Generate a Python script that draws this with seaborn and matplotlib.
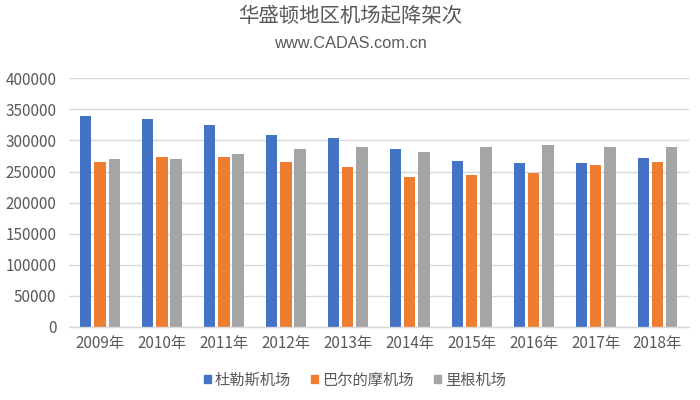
import matplotlib
matplotlib.use("Agg")
import matplotlib.pyplot as plt
import seaborn as sns
import pandas as pd
from matplotlib.patches import Patch

years = ["2009年", "2010年", "2011年", "2012年", "2013年", "2014年", "2015年", "2016年", "2017年", "2018年"]
series_names = ["杜勒斯机场", "巴尔的摩机场", "里根机场"]
dulles = [339000, 334000, 325000, 309000, 304000, 286000, 267000, 263000, 263000, 272000]
baltimore = [266000, 274000, 274000, 266000, 258000, 242000, 244000, 247000, 260000, 266000]
reagan = [270000, 270000, 279000, 286000, 290000, 281000, 290000, 293000, 290000, 290000]
colors = ["#4472C4", "#ED7D31", "#A5A5A5"]
y_ticks = [0, 50000, 100000, 150000, 200000, 250000, 300000, 350000, 400000]

rows = []
for name, vals in zip(series_names, [dulles, baltimore, reagan]):
    for y, v in zip(years, vals):
        rows.append({"year": y, "airport": name, "flights": v})
df = pd.DataFrame(rows)

sns.set_theme(style="white")
plt.rcParams["font.family"] = ["Noto Sans CJK SC", "DejaVu Sans"]
text_color = "#595959"

fig = plt.figure(figsize=(7, 4), dpi=100)
ax = fig.add_axes([0.0986, 0.183, 0.885, 0.621])

sns.barplot(data=df, x="year", y="flights", hue="airport", order=years,
            hue_order=series_names, palette=colors, width=0.69, gap=0.2,
            saturation=1, linewidth=0, ax=ax, legend=False, errorbar=None)

ax.set_ylim(0, 400000)
ax.set_yticks(y_ticks)
ax.set_yticklabels([str(t) for t in y_ticks])
ax.set_xlim(-0.5, len(years) - 0.5)
ax.set_xlabel("")
ax.set_ylabel("")
ax.yaxis.grid(True, color="#D9D9D9", linewidth=1)
ax.set_axisbelow(True)
for s in ["left", "right", "top"]:
    ax.spines[s].set_visible(False)
ax.spines["bottom"].set_color("#D9D9D9")
ax.spines["bottom"].set_linewidth(1)
ax.tick_params(axis="both", length=0, colors=text_color, labelsize=11)
ax.tick_params(axis="y", pad=9)
ax.tick_params(axis="x", pad=6)

fig.text(0.5, 0.96, "华盛顿地区机场起降架次", ha="center", va="center",
         fontsize=14.7, color=text_color)
fig.text(0.5, 0.891, "www.CADAS.com.cn", ha="center", va="center",
         fontsize=11.8, color=text_color, family=["Liberation Sans", "DejaVu Sans"])

handles = [Patch(facecolor=c, edgecolor=c) for c in colors]
leg = fig.legend(handles, series_names, loc="center", bbox_to_anchor=(0.507, 0.05),
                 ncol=3, frameon=False, fontsize=11, handlelength=0.45, handleheight=0.45,
                 handletextpad=0.28, columnspacing=1.3)
for t in leg.get_texts():
    t.set_color(text_color)

fig.savefig("out.png", dpi=100)
